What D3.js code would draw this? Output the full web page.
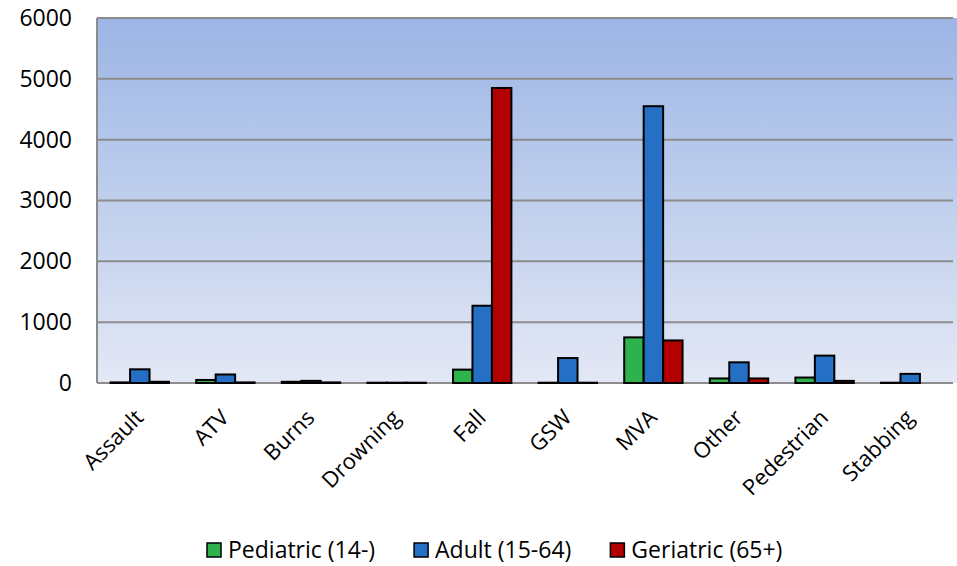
<!DOCTYPE html>
<html>
<head>
<meta charset="utf-8">
<script src="https://cdn.jsdelivr.net/npm/d3@7"></script>
<style>
  body { margin: 0; background: #fff; }
  svg { display: block; font-family: "Open Sans", sans-serif; }
</style>
</head>
<body>
<div id="chart"></div>
<script>
// data
var categories = ["Assault", "ATV", "Burns", "Drowning", "Fall", "GSW", "MVA", "Other", "Pedestrian", "Stabbing"];
var pediatric = [10, 50, 20, 5, 220, 5, 750, 75, 90, 5];
var adult = [225, 140, 35, 5, 1270, 410, 4550, 340, 450, 150];
var geriatric = [20, 10, 10, 5, 4850, 5, 700, 75, 35, 0];
var seriesNames = ["Pediatric (14-)", "Adult (15-64)", "Geriatric (65+)"];
var yTicks = [0, 1000, 2000, 3000, 4000, 5000, 6000];

var colors = ["#2db24c", "#2570c4", "#b30000"];
var seriesValues = [pediatric, adult, geriatric];

var width = 957, height = 566;
var margin = { top: 18, right: 4, bottom: 183, left: 97 };
var plotW = width - margin.left - margin.right,
    plotH = height - margin.top - margin.bottom;

var svg = d3.select("#chart").append("svg")
  .attr("width", width)
  .attr("height", height);

// background gradient of the plot area
var grad = svg.append("defs").append("linearGradient")
  .attr("id", "bg")
  .attr("x1", 0).attr("y1", 0).attr("x2", 0).attr("y2", 1);
grad.append("stop").attr("offset", "0%").attr("stop-color", "#9cb5e5");
grad.append("stop").attr("offset", "100%").attr("stop-color", "#e3e8f5");

var g = svg.append("g")
  .attr("transform", "translate(" + margin.left + "," + margin.top + ")");

var x = d3.scaleBand()
  .domain(categories)
  .range([0, plotW])
  .paddingInner(0)
  .paddingOuter(0);

// bars inside each category
var x1 = d3.scaleBand()
  .domain([0, 1, 2])
  .range([0, x.bandwidth()])
  .paddingInner(0)
  .paddingOuter(0.7);

var y = d3.scaleLinear()
  .domain([0, 6000])
  .range([plotH, 0]);

g.append("rect")
  .attr("x", 0).attr("y", 0)
  .attr("width", width - margin.left)
  .attr("height", plotH)
  .style("fill", "url(#bg)");

// gridlines
g.selectAll(".grid")
  .data(yTicks)
  .enter()
  .append("line")
  .attr("x1", 0)
  .attr("x2", plotW)
  .attr("y1", function (d) { return y(d); })
  .attr("y2", function (d) { return y(d); })
  .style("stroke", "#8c8c8c")
  .style("stroke-width", 2);

// left axis line
g.append("line")
  .attr("x1", 0).attr("x2", 0)
  .attr("y1", 0).attr("y2", plotH)
  .style("stroke", "#8c8c8c")
  .style("stroke-width", 2);

// y tick labels
var yAxis = d3.axisLeft(y)
  .tickValues(yTicks)
  .tickFormat(d3.format("d"))
  .tickSize(0)
  .tickPadding(25);
var yAx = g.append("g").call(yAxis);
yAx.select(".domain").remove();
yAx.selectAll("text")
  .style("font-size", "23px")
  .style("fill", "#000")
  .style("font-family", "'Open Sans', sans-serif");

// bars
var groups = g.selectAll(".cat")
  .data(categories)
  .enter()
  .append("g")
  .attr("transform", function (d) { return "translate(" + x(d) + ",0)"; });

groups.selectAll("rect")
  .data(function (d, i) {
    return seriesValues.map(function (s, k) { return { k: k, v: s[i] }; });
  })
  .enter()
  .append("rect")
  .attr("x", function (d) { return x1(d.k); })
  .attr("y", function (d) { return y(d.v); })
  .attr("width", x1.bandwidth())
  .attr("height", function (d) { return plotH - y(d.v); })
  .style("fill", function (d) { return colors[d.k]; })
  .style("stroke", function (d) { return d.v > 0 ? "#000" : "none"; })
  .style("stroke-width", 2);

// category labels
g.selectAll(".catLabel")
  .data(categories)
  .enter()
  .append("text")
  .attr("transform", function (d) {
    return "translate(" + (x(d) + x.bandwidth() / 2 + 5) + "," + (plotH + 36) + ") rotate(-45)";
  })
  .attr("text-anchor", "end")
  .style("font-size", "22px")
  .text(function (d) { return d; });

// legend
var legend = svg.append("g").attr("transform", "translate(207,550)");
var lx = 0;
seriesNames.forEach(function (name, k) {
  var item = legend.append("g").attr("transform", "translate(" + lx + ",0)");
  item.append("rect")
    .attr("x", 0).attr("y", -7)
    .attr("width", 14).attr("height", 14)
    .style("fill", colors[k])
    .style("stroke", "#000")
    .style("stroke-width", 1.5);
  var t = item.append("text")
    .attr("x", 21)
    .attr("y", 0)
    .attr("dy", "0.35em")
    .style("font-size", "23px")
    .text(name);
  lx += 21 + t.node().getComputedTextLength() + 39;
});
</script>
</body>
</html>
